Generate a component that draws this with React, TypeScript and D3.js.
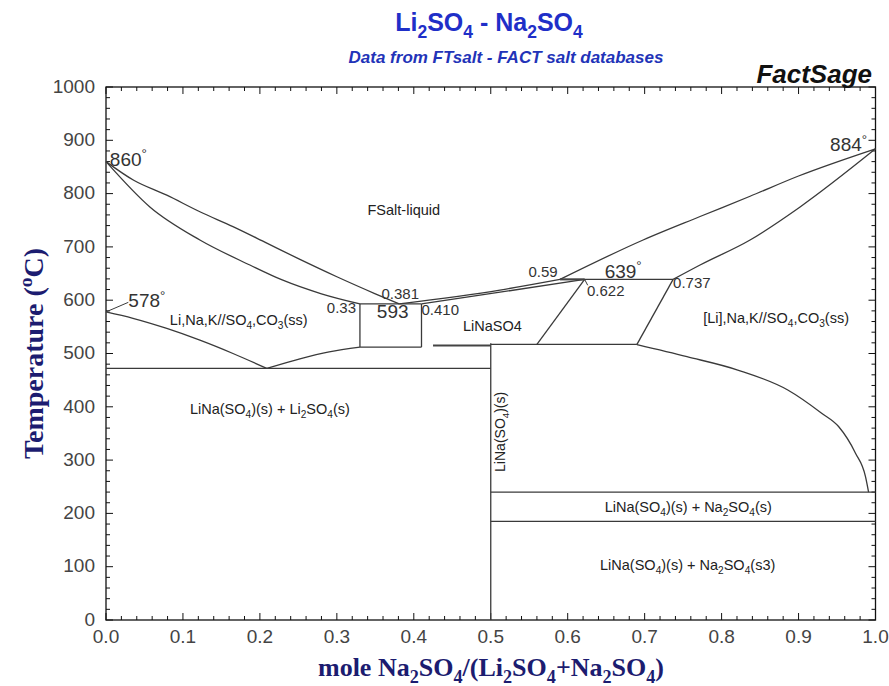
import React from "react";
import * as d3 from "d3";

type Pt = [number, number];

// axis ticks
const xTicks = [0, 0.1, 0.2, 0.3, 0.4, 0.5, 0.6, 0.7, 0.8, 0.9, 1.0];
const xTickLabels = ["0.0", "0.1", "0.2", "0.3", "0.4", "0.5", "0.6", "0.7", "0.8", "0.9", "1.0"];
const yTicks = [0, 100, 200, 300, 400, 500, 600, 700, 800, 900, 1000];
const yTickLabels = ["0", "100", "200", "300", "400", "500", "600", "700", "800", "900", "1000"];

// phase boundaries: [mole Na2SO4 fraction, T in C]
const liquidusLeft: Pt[] = [[0, 860], [0.036, 825], [0.079, 797], [0.122, 766], [0.165, 738], [0.209, 707], [0.25, 678], [0.3, 644], [0.35, 612], [0.381, 593]];
const solidusLeft: Pt[] = [[0, 860], [0.057, 775], [0.122, 713], [0.187, 666], [0.229, 638], [0.28, 612], [0.33, 593]];
const liquidusMid: Pt[] = [[0.381, 593], [0.512, 619], [0.59, 639]];
const liquidusRight: Pt[] = [[0.59, 639], [0.698, 713], [0.772, 757], [0.837, 795], [0.9, 833], [1.0, 884]];
const solidusMid: Pt[] = [[0.41, 593], [0.512, 615], [0.622, 639]];
const solidusRight: Pt[] = [[0.737, 639], [0.772, 666], [0.837, 713], [0.902, 775], [1.0, 884]];
const liSolvusHigh: Pt[] = [[0, 578], [0.035, 566], [0.079, 547], [0.122, 525], [0.165, 500], [0.209, 472]];
const liSolvusLow: Pt[] = [[0.209, 472], [0.252, 490], [0.29, 503], [0.33, 512]];
const naSolvus: Pt[] = [[0.69, 516.5], [0.755, 494], [0.821, 469], [0.886, 431.5], [0.93, 388], [0.952, 363], [0.974, 313], [0.987, 269], [0.991, 240]];

// invariant lines and straight boundaries
const straightLines: Pt[][] = [
  [[0.33, 593], [0.41, 593]],
  [[0.59, 639], [0.737, 639]],
  [[0.33, 593], [0.33, 512]],
  [[0.41, 593], [0.41, 512]],
  [[0.33, 512], [0.41, 512]],
  [[0.5, 517], [0.69, 517]],
  [[0.622, 639], [0.56, 517]],
  [[0.737, 639], [0.69, 517]],
  [[0, 472], [0.5, 472]],
  [[0.5, 519], [0.5, 0]],
  [[0.5, 240], [1.0, 240]],
  [[0.5, 185], [1.0, 185]],
];
const thickLines: Pt[][] = [
  [[0.425, 515], [0.5, 515]],
  [[0.59, 639], [0.622, 639]],
];
const leaders: Pt[][] = [
  [[0, 578], [0.029, 596]],
  [[0.622, 639], [0.626, 628]],
];

// annotations: text, anchor point in data units, kind
const labels = [
  { t: "FSalt-liquid", x: 0.387, T: 760, k: "phase", a: "middle" },
  { t: "860^°", x: 0.005, T: 852, k: "big", a: "start" },
  { t: "884^°", x: 0.941, T: 879, k: "big", a: "start" },
  { t: "578^°", x: 0.029, T: 587, k: "big", a: "start" },
  { t: "Li,Na,K//SO_4,CO_3(ss)", x: 0.083, T: 553, k: "phase", a: "start" },
  { t: "0.33", x: 0.287, T: 576, k: "num", a: "start" },
  { t: "0.381", x: 0.358, T: 602, k: "num", a: "start" },
  { t: "593", x: 0.352, T: 567, k: "big", a: "start" },
  { t: "0.410", x: 0.41, T: 572, k: "num", a: "start" },
  { t: "LiNaSO4", x: 0.464, T: 542, k: "phase", a: "start" },
  { t: "0.59", x: 0.549, T: 643, k: "num", a: "start" },
  { t: "639^°", x: 0.648, T: 642, k: "big", a: "start" },
  { t: "0.622", x: 0.625, T: 607, k: "num", a: "start" },
  { t: "0.737", x: 0.737, T: 623, k: "num", a: "start" },
  { t: "[Li],Na,K//SO_4,CO_3(ss)", x: 0.776, T: 557, k: "phase", a: "start" },
  { t: "LiNa(SO_4)(s) + Li_2SO_4(s)", x: 0.109, T: 386, k: "phase", a: "start" },
  { t: "LiNa(SO_4)(s) + Na_2SO_4(s)", x: 0.648, T: 203, k: "phase", a: "start" },
  { t: "LiNa(SO_4)(s) + Na_2SO_4(s3)", x: 0.642, T: 94, k: "phase", a: "start" },
];
const verticalLabel = { t: "LiNa(SO_4)(s)", x: 0.518, T: 353 };

const W = 889;
const H = 686;
const xs = d3.scaleLinear().domain([0, 1]).range([106, 875.5]);
const ys = d3.scaleLinear().domain([0, 1000]).range([620, 87]);

const curve = d3.line<Pt>().x((d) => xs(d[0])).y((d) => ys(d[1])).curve(d3.curveMonotoneX);
const straight = d3.line<Pt>().x((d) => xs(d[0])).y((d) => ys(d[1]));

// "_x" subscript, "^x" superscript
function rich(s: string, fs: number) {
  const parts: { t: string; k: string }[] = [];
  let buf = "";
  for (let i = 0; i < s.length; i++) {
    const c = s[i];
    if ((c === "_" || c === "^") && i + 1 < s.length) {
      if (buf) parts.push({ t: buf, k: "n" });
      buf = "";
      parts.push({ t: s[i + 1], k: c === "_" ? "sub" : "sup" });
      i++;
    } else buf += c;
  }
  if (buf) parts.push({ t: buf, k: "n" });
  let shift = 0;
  return parts.map((p, j) => {
    const target = p.k === "sub" ? 0.28 * fs : p.k === "sup" ? -0.4 * fs : 0;
    const dy = target - shift;
    shift = target;
    return (
      <tspan key={j} dy={dy} fontSize={p.k === "n" ? undefined : fs * 0.7}>
        {p.t}
      </tspan>
    );
  });
}

const kindStyle: Record<string, { fs: number; fill: string }> = {
  phase: { fs: 14.5, fill: "#222" },
  num: { fs: 15, fill: "#333" },
  big: { fs: 19, fill: "#333" },
};

const sans = "Arial, 'Liberation Sans', sans-serif";
const narrow = "'Liberation Sans Narrow', Arial, sans-serif";
const serif = "'Times New Roman', 'Liberation Serif', serif";

export default function App() {
  const minorX = xs.ticks(50);
  const minorY = ys.ticks(50);
  const x0 = xs(0), x1 = xs(1), y0 = ys(0), y1 = ys(1000);
  const stroke = "#3a3a3a";

  return (
    <svg width={W} height={H} style={{ position: "absolute", left: 0, top: 0, background: "#fff" }}>
      {/* titles */}
      <text x={489} y={31} textAnchor="middle" fontFamily={sans} fontWeight="bold" fontSize={25} fill="#1f2fc8">
        {rich("Li_2SO_4 - Na_2SO_4", 25)}
      </text>
      <text x={506} y={63} textAnchor="middle" fontFamily={sans} fontWeight="bold" fontStyle="italic" fontSize={17} fill="#2233b8">
        Data from FTsalt - FACT salt databases
      </text>
      <text x={872} y={83} textAnchor="end" fontFamily={sans} fontWeight="bold" fontStyle="italic" fontSize={26} fill="#111">
        FactSage
      </text>

      {/* frame and ticks */}
      <rect x={x0} y={y1} width={x1 - x0} height={y0 - y1} fill="none" stroke="#111" strokeWidth={1.3} />
      {minorX.map((v, i) => {
        const len = xTicks.some((t) => Math.abs(t - v) < 1e-6) ? 7 : 4;
        return (
          <g key={"xt" + i} stroke="#111" strokeWidth={1}>
            <line x1={xs(v)} x2={xs(v)} y1={y0} y2={y0 - len} />
            <line x1={xs(v)} x2={xs(v)} y1={y1} y2={y1 + len} />
          </g>
        );
      })}
      {minorY.map((v, i) => {
        const len = yTicks.includes(v) ? 7 : 4;
        return (
          <g key={"yt" + i} stroke="#111" strokeWidth={1}>
            <line x1={x0} x2={x0 + len} y1={ys(v)} y2={ys(v)} />
            <line x1={x1} x2={x1 - len} y1={ys(v)} y2={ys(v)} />
          </g>
        );
      })}
      {xTicks.map((v, i) => (
        <text key={"xl" + i} x={xs(v)} y={643} textAnchor="middle" fontFamily={narrow} fontSize={19} fill="#444">
          {xTickLabels[i]}
        </text>
      ))}
      {yTicks.map((v, i) => (
        <text key={"yl" + i} x={95} y={ys(v)} dy="0.3em" textAnchor="end" fontFamily={narrow} fontSize={19} fill="#444">
          {yTickLabels[i]}
        </text>
      ))}

      {/* axis titles */}
      <text x={491} y={676} textAnchor="middle" fontFamily={serif} fontWeight="bold" fontSize={26} fill="#1c1c70">
        {rich("mole Na_2SO_4/(Li_2SO_4+Na_2SO_4)", 26)}
      </text>
      <text transform={`translate(43,${(y0 + y1) / 2}) rotate(-90)`} textAnchor="middle" fontFamily={serif} fontWeight="bold" fontSize={28} fill="#1c1c70">
        {rich("Temperature (^oC)", 28)}
      </text>

      {/* phase boundaries */}
      <g fill="none" stroke={stroke} strokeWidth={1.3}>
        {[liquidusLeft, solidusLeft, liquidusMid, liquidusRight, solidusMid, solidusRight, liSolvusHigh, liSolvusLow, naSolvus].map((d, i) => (
          <path key={"c" + i} d={curve(d) || ""} />
        ))}
        {straightLines.map((d, i) => (
          <path key={"s" + i} d={straight(d) || ""} />
        ))}
        {leaders.map((d, i) => (
          <path key={"l" + i} d={straight(d) || ""} strokeWidth={1} />
        ))}
        {thickLines.map((d, i) => (
          <path key={"t" + i} d={straight(d) || ""} strokeWidth={2} stroke="#444" />
        ))}
      </g>

      {/* annotations */}
      {labels.map((l, i) => {
        const st = kindStyle[l.k];
        return (
          <text key={"a" + i} x={xs(l.x)} y={ys(l.T)} textAnchor={l.a} fontFamily={sans} fontSize={st.fs} fill={st.fill}>
            {rich(l.t, st.fs)}
          </text>
        );
      })}
      <text
        transform={`translate(${xs(verticalLabel.x)},${ys(verticalLabel.T)}) rotate(-90)`}
        textAnchor="middle"
        dy="0.35em"
        fontFamily={sans}
        fontSize={14}
        fill="#222"
      >
        {rich(verticalLabel.t, 14)}
      </text>
    </svg>
  );
}
